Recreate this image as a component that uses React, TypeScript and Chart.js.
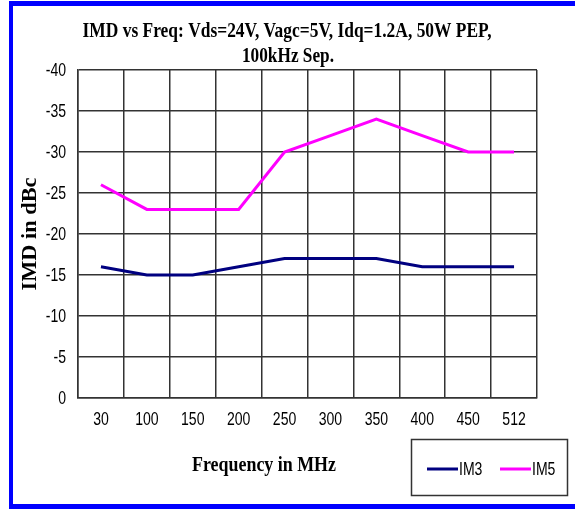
import React, { useEffect, useRef } from "react";
import { Chart, registerables } from "chart.js";

Chart.register(...registerables);

const categories = ["30", "100", "150", "200", "250", "300", "350", "400", "450", "512"];
const im3Values = [-16, -15, -15, -16, -17, -17, -17, -16, -16, -16];
const im5Values = [-26, -23, -23, -23, -30, -32, -34, -32, -30, -30];
const seriesNames = ["IM3", "IM5"];
const titleLines = ["IMD vs Freq: Vds=24V, Vagc=5V, Idq=1.2A, 50W PEP,", "100kHz Sep."];
const xTitle = "Frequency in MHz";
const yTitle = "IMD in dBc";

const SANS = "'Liberation Sans', Arial, sans-serif";
const SERIF = "'Liberation Serif', 'Times New Roman', serif";
const NARROW_X = 0.78;

function fitText(
  ctx: CanvasRenderingContext2D,
  text: string,
  cx: number,
  cy: number,
  font: string,
  width: number,
  rotate = 0
) {
  ctx.save();
  ctx.font = font;
  const w = ctx.measureText(text).width;
  const sx = width / w;
  ctx.translate(cx, cy);
  if (rotate) ctx.rotate(rotate);
  ctx.scale(sx, 1);
  ctx.textAlign = "center";
  ctx.textBaseline = "middle";
  ctx.fillStyle = "#000";
  ctx.fillText(text, 0, 0);
  ctx.restore();
}

function narrowText(
  ctx: CanvasRenderingContext2D,
  text: string,
  x: number,
  y: number,
  align: CanvasTextAlign,
  size: number
) {
  ctx.save();
  ctx.font = `${size}px ${SANS}`;
  ctx.translate(x, y);
  ctx.scale(NARROW_X, 1);
  ctx.textAlign = align;
  ctx.textBaseline = "middle";
  ctx.fillStyle = "#000";
  ctx.fillText(text, 0, 0);
  ctx.restore();
}

const decorPlugin = {
  id: "decor",
  beforeDraw(chart: any) {
    const ctx = chart.ctx as CanvasRenderingContext2D;
    ctx.save();
    ctx.fillStyle = "#fff";
    ctx.fillRect(0, 0, chart.width, chart.height);
    ctx.fillStyle = "#0000FF";
    ctx.fillRect(9, 1, chart.width - 9, 5);
    ctx.fillRect(9, 1, 4, 508);
    ctx.fillRect(9, 504, chart.width - 9, 5);
    ctx.restore();
  },
  afterDraw(chart: any) {
    const ctx = chart.ctx as CanvasRenderingContext2D;
    // tick labels
    const xs = chart.scales.x;
    xs.ticks.forEach((t: any, i: number) => {
      narrowText(ctx, String(xs.getLabelForValue(t.value)), xs.getPixelForTick(i), 420, "center", 18);
    });
    const ys = chart.scales.y;
    ys.ticks.forEach((t: any, i: number) => {
      narrowText(ctx, String(t.label), 66, ys.getPixelForTick(i) + 1, "right", 18);
    });
    // title
    fitText(ctx, titleLines[0], 287, 31, `bold 22px ${SERIF}`, 409);
    fitText(ctx, titleLines[1], 288, 56, `bold 22px ${SERIF}`, 92);
    // axis titles
    fitText(ctx, xTitle, 264, 466, `bold 21px ${SERIF}`, 144);
    fitText(ctx, yTitle, 31, 234, `bold 21px ${SERIF}`, 113, -Math.PI / 2);
    // legend box
    ctx.save();
    ctx.strokeStyle = "#333";
    ctx.lineWidth = 1.5;
    ctx.strokeRect(411.5, 439.5, 156, 56);
    const items = chart.data.datasets;
    const starts = [427, 500];
    items.forEach((ds: any, i: number) => {
      const x0 = starts[i];
      ctx.strokeStyle = ds.borderColor;
      ctx.lineWidth = 3;
      ctx.beginPath();
      ctx.moveTo(x0, 469);
      ctx.lineTo(x0 + 31, 469);
      ctx.stroke();
      narrowText(ctx, ds.label, x0 + 32, 470, "left", 18);
    });
    ctx.restore();
  },
};

export default function App() {
  const ref = useRef<HTMLCanvasElement | null>(null);
  useEffect(() => {
    if (!ref.current) return;
    const chart = new Chart(ref.current, {
      type: "line",
      data: {
        labels: categories,
        datasets: [
          {
            label: seriesNames[0],
            data: im3Values,
            borderColor: "#000080",
            backgroundColor: "#000080",
            borderWidth: 3,
            pointRadius: 0,
            tension: 0,
          },
          {
            label: seriesNames[1],
            data: im5Values,
            borderColor: "#FF00FF",
            backgroundColor: "#FF00FF",
            borderWidth: 3,
            pointRadius: 0,
            tension: 0,
          },
        ],
      },
      options: {
        responsive: false,
        animation: false,
        devicePixelRatio: 1,
        layout: { padding: { left: 20, top: 70, right: 38, bottom: 71 } },
        plugins: {
          legend: { display: false },
          title: { display: false },
          tooltip: { enabled: false },
        },
        scales: {
          x: {
            type: "category",
            offset: true,
            grid: { offset: true, color: "#333", lineWidth: 1.5, drawTicks: false },
            border: { color: "#333", width: 1.5 },
            ticks: { display: false, autoSkip: false },
            afterFit: (s: any) => {
              s.height = 40;
            },
          },
          y: {
            min: -40,
            max: 0,
            reverse: true,
            grid: { color: "#333", lineWidth: 1.5, drawTicks: false },
            border: { color: "#333", width: 1.5 },
            ticks: { display: false, stepSize: 5 },
            afterFit: (s: any) => {
              s.width = 58;
            },
          },
        },
      },
      plugins: [decorPlugin],
    });
    return () => chart.destroy();
  }, []);
  return (
    <div style={{ position: "fixed", left: 0, top: 0, width: 575, height: 509, background: "#fff" }}>
      <canvas ref={ref} width={575} height={509} style={{ display: "block", width: 575, height: 509 }} />
    </div>
  );
}
